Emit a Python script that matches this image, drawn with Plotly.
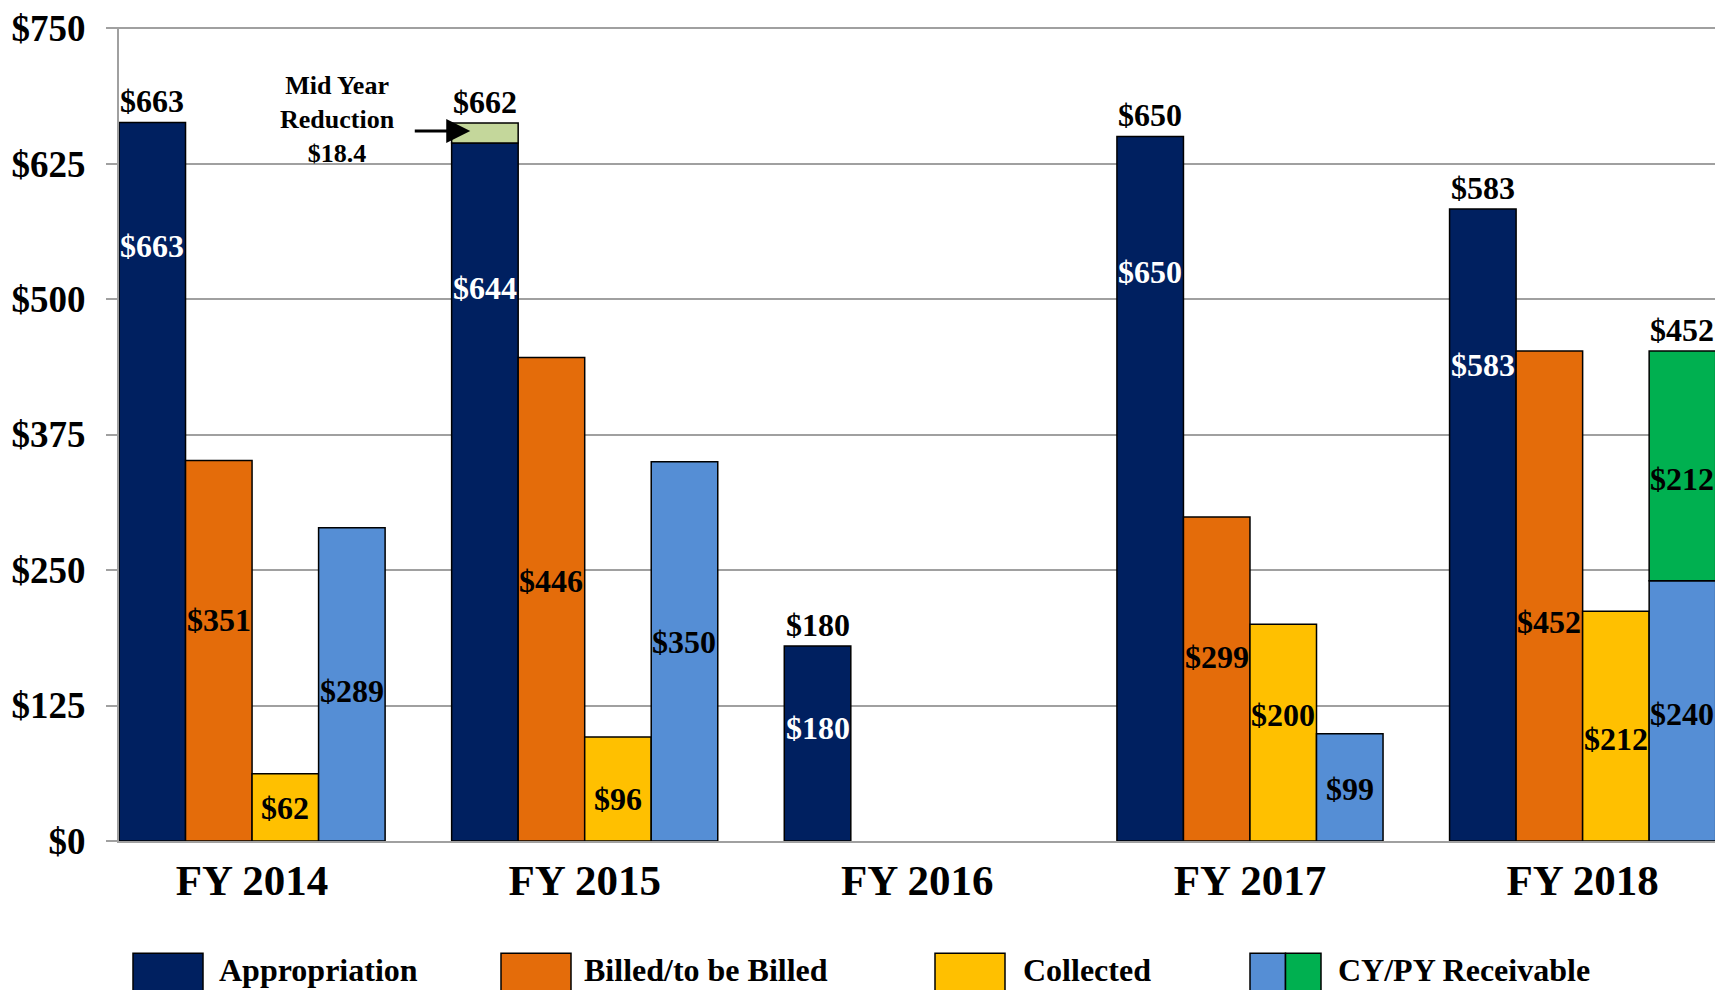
import plotly.graph_objects as go

# ---------------- data ----------------
categories = ["FY 2014", "FY 2015", "FY 2016", "FY 2017", "FY 2018"]
appropriation = [663, 644, 180, 650, 583]
mid_year_reduction = [None, 18.4, None, None, None]
billed = [351, 446, None, 299, 452]
collected = [62, 96, None, 200, 212]
cy_receivable = [289, 350, None, 99, 240]
py_receivable = [None, None, None, None, 212]

y_ticks = [0, 125, 250, 375, 500, 625, 750]
y_tick_labels = ["$0", "$125", "$250", "$375", "$500", "$625", "$750"]

legend_labels = ["Appropriation", "Billed/to be Billed", "Collected", "CY/PY Receivable"]

# where the in-bar value labels sit (value units)
appropriation_label_y = [549, 510, 104, 525, 439]
billed_label_y = [204, 240, None, 170, 202]
collected_label_y = [30, 39, None, 116, 94]
cy_label_y = [138, 184, None, 48, 117]
py_label_y = [None, None, None, None, 334]

# ---------------- style ----------------
FONT = "Liberation Serif, Times New Roman, serif"
C_APP = "#002060"
C_RED = "#C4D79B"
C_BILL = "#E46C0A"
C_COLL = "#FFC000"
C_CY = "#558ED5"
C_PY = "#00B050"
GRID = "#A0A0A0"
OUTLINE = dict(color="black", width=1.5)

OFF = 8  # default page margin of the html body
W, H = 1723 - OFF, 990 - OFF
L, R, T, B = 111, 0, 14, 149

fig = go.Figure()
fig.add_bar(x=categories, y=appropriation, offsetgroup="a", name=legend_labels[0],
            marker=dict(color=C_APP, line=OUTLINE))
fig.add_bar(x=categories, y=mid_year_reduction, base=appropriation, offsetgroup="a",
            name="Mid Year Reduction", marker=dict(color=C_RED, line=OUTLINE))
fig.add_bar(x=categories, y=billed, offsetgroup="b", name=legend_labels[1],
            marker=dict(color=C_BILL, line=OUTLINE))
fig.add_bar(x=categories, y=collected, offsetgroup="c", name=legend_labels[2],
            marker=dict(color=C_COLL, line=OUTLINE))
fig.add_bar(x=categories, y=cy_receivable, offsetgroup="d", name="CY Receivable",
            marker=dict(color=C_CY, line=OUTLINE))
fig.add_bar(x=categories, y=py_receivable, base=[v or 0 for v in cy_receivable], offsetgroup="d",
            name="PY Receivable", marker=dict(color=C_PY, line=OUTLINE))

annotations = []
offsets = [-0.3, -0.1, 0.1, 0.3]


def lab(x, y, text, color="black", size=32, **kw):
    d = dict(x=x, y=y, xref="x", yref="y", text=text, showarrow=False,
             font=dict(family=FONT, size=size, color=color, weight="bold"))
    d.update(kw)
    annotations.append(d)


series_labels = [
    (appropriation, appropriation_label_y, 0, "white"),
    (billed, billed_label_y, 1, "black"),
    (collected, collected_label_y, 2, "black"),
    (cy_receivable, cy_label_y, 3, "black"),
    (py_receivable, py_label_y, 3, "black"),
]
for vals, ys, j, col in series_labels:
    for i, (v, yy) in enumerate(zip(vals, ys)):
        if v is None or yy is None:
            continue
        lab(i + offsets[j], yy, f"${round(v)}", color=col)

# totals above bars
for i, (a, r) in enumerate(zip(appropriation, mid_year_reduction)):
    tot = a + (r or 0)
    lab(i + offsets[0], tot, f"${round(tot)}", yshift=21)
for i, (c, p) in enumerate(zip(cy_receivable, py_receivable)):
    if p is not None:
        tot = c + p
        lab(i + offsets[3], tot, f"${round(tot)}", yshift=21)

# mid-year reduction callout
lab(0.256, 666, "Mid Year<br>Reduction<br>$" + str(mid_year_reduction[1]), size=26)
annotations.append(dict(x=0.656, y=655, xref="x", yref="y", ax=-57, ay=0, text="",
                        showarrow=True, arrowhead=2, arrowsize=1.6, arrowwidth=3,
                        arrowcolor="black"))

# ---------------- custom legend ----------------
pw = W - L - R
ph = H - T - B


def px(xp):  # page pixel -> paper
    return (xp - OFF - L) / pw


def py(yp):
    return (H - B - (yp - OFF)) / ph


shapes = []
box_top, box_bot = 954, 1010
legend_items = [
    (133, 203, [C_APP], 217, legend_labels[0]),
    (501, 571, [C_BILL], 582, legend_labels[1]),
    (935, 1005, [C_COLL], 1021, legend_labels[2]),
    (1250, 1321, [C_CY, C_PY], 1336, legend_labels[3]),
]
for x0, x1, cols, tx, txt in legend_items:
    n = len(cols)
    for k, c in enumerate(cols):
        a = x0 + (x1 - x0) * k / n
        b = x0 + (x1 - x0) * (k + 1) / n
        shapes.append(dict(type="rect", xref="paper", yref="paper",
                           x0=px(a), x1=px(b), y0=py(box_bot), y1=py(box_top),
                           fillcolor=c, line=dict(color="black", width=1.5)))
    annotations.append(dict(x=px(tx), y=py(971), xref="paper", yref="paper", text=txt,
                            showarrow=False, xanchor="left", yanchor="middle",
                            font=dict(family=FONT, size=32, color="black", weight="bold")))

fig.update_layout(
    width=W, height=H,
    margin=dict(l=L, r=R, t=T, b=B),
    plot_bgcolor="white", paper_bgcolor="white",
    barmode="group", bargap=0.2, bargroupgap=0,
    showlegend=False,
    annotations=annotations,
    shapes=shapes,
    xaxis=dict(range=[-0.4, 4.422], showgrid=False, showline=True, linecolor=GRID,
               linewidth=2, ticks="", ticklabelstandoff=0,
               tickfont=dict(family=FONT, size=43, color="black", weight="bold")),
    yaxis=dict(range=[0, 751], tickvals=y_ticks, ticktext=y_tick_labels,
               showgrid=True, gridcolor=GRID, gridwidth=2, zeroline=False,
               showline=True, linecolor=GRID, linewidth=2,
               ticks="outside", ticklen=11, tickcolor=GRID, tickwidth=2,
               ticklabelstandoff=13, ticklabeloverflow="allow",
               tickfont=dict(family=FONT, size=37, color="black", weight="bold")),
)

fig.write_html("out.html")
